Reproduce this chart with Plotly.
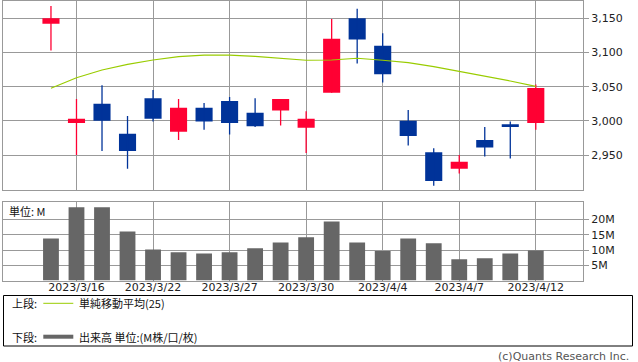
import plotly.graph_objects as go

# ---- data ----
dates = ["2023/3/15", "2023/3/16", "2023/3/17", "2023/3/20", "2023/3/22", "2023/3/23",
         "2023/3/24", "2023/3/27", "2023/3/28", "2023/3/29", "2023/3/30", "2023/3/31",
         "2023/4/3", "2023/4/4", "2023/4/5", "2023/4/6", "2023/4/7", "2023/4/10",
         "2023/4/11", "2023/4/12"]
open_ = [3142, 2997, 3025, 2981, 3033, 2984, 3019, 3029, 3012, 3015, 2990, 3041, 3150, 3110,
         3000, 2954, 2930, 2972, 2995, 2997]
high = [3168, 3032, 3052, 3007, 3045, 3032, 3026, 3035, 3033, 3032, 3014, 3149, 3164, 3128,
        3016, 2960, 2950, 2991, 2999, 3053]
low = [3103, 2950, 2956, 2930, 2999, 2972, 2987, 2980, 2991, 2993, 2953, 3041, 3084, 3056,
       2964, 2905, 2923, 2948, 2945, 2987]
close = [3150, 3003, 3000, 2956, 3003, 3019, 2999, 2997, 2992, 3032, 3003, 3120, 3119, 3068,
         2978, 2912, 2940, 2961, 2991, 3048]
ma25 = [3047.6, 3063.0, 3074.4, 3082.7, 3089.0, 3094.0, 3096.0, 3096.0, 3094.4, 3092.0,
        3088.6, 3089.0, 3091.5, 3088.6, 3085.0, 3079.3, 3072.5, 3064.7, 3058.3, 3050.5]
volume_m = [13.8, 24.0, 24.0, 16.1, 10.2, 9.3, 8.9, 9.3, 10.6, 12.5, 14.2, 19.4, 12.5, 9.7,
            13.8, 12.2, 7.0, 7.3, 8.9, 9.9]
x_tick_dates = ["2023/3/16", "2023/3/22", "2023/3/27", "2023/3/30", "2023/4/4", "2023/4/7",
                "2023/4/12"]
price_ticks = [2950, 3000, 3050, 3100, 3150]
vol_ticks = [5, 10, 15, 20]
vol_tick_labels = ["5M", "10M", "15M", "20M"]

# ---- style ----
W, H = 638, 362
ML, MR = 3, 55
UP = "#FF0033"
DOWN = "#003399"
MA_COLOR = "#99CC00"
VOL_COLOR = "#666666"
GRID = "#999999"
FONT = "DejaVu Sans"
JFONT = "Noto Sans CJK JP"


def px_x(px):
    return (px - ML) / (W - ML - MR)


def px_y(py):
    return 1 - py / H


fig = go.Figure()

# wicks
for col, cond in ((UP, lambda o, c: c >= o), (DOWN, lambda o, c: c < o)):
    xs, ys = [], []
    for d, o, h, l, c in zip(dates, open_, high, low, close):
        if cond(o, c):
            xs += [d, d, None]
            ys += [l, h, None]
    fig.add_trace(go.Scatter(x=xs, y=ys, mode="lines", line=dict(color=col, width=1.3),
                             hoverinfo="skip", showlegend=False, xaxis="x", yaxis="y"))

# bodies
fig.add_trace(go.Bar(
    x=dates,
    base=[min(o, c) for o, c in zip(open_, close)],
    y=[max(abs(c - o), 0.8) for o, c in zip(open_, close)],
    marker=dict(color=[UP if c >= o else DOWN for o, c in zip(open_, close)], line=dict(width=0)),
    width=0.67, showlegend=False, xaxis="x", yaxis="y"))

# moving average
fig.add_trace(go.Scatter(x=dates, y=ma25, mode="lines", line=dict(color=MA_COLOR, width=1.2),
                         showlegend=False, xaxis="x", yaxis="y"))

# volume
fig.add_trace(go.Bar(x=dates, y=volume_m, marker=dict(color=VOL_COLOR, line=dict(width=0)),
                     width=0.62, showlegend=False, xaxis="x2", yaxis="y2"))

xrange = [-1.88, 20.85]
axis_common = dict(showline=True, mirror=True, linecolor=GRID, linewidth=1,
                   gridcolor=GRID, gridwidth=1, zeroline=False)

fig.update_layout(
    width=W, height=H,
    margin=dict(l=ML, r=MR, t=0, b=0),
    paper_bgcolor="white", plot_bgcolor="white",
    barmode="overlay",
    font=dict(family=FONT, size=11, color="#222222"),
    xaxis=dict(type="category", categoryorder="array", categoryarray=dates,
               range=xrange, domain=[0, 1], anchor="y",
               tickmode="array", tickvals=x_tick_dates, showticklabels=False,
               ticks="", showgrid=True, **axis_common),
    yaxis=dict(domain=[px_y(190.3), px_y(0.5)], range=[2898.4, 3176], side="right",
               tickmode="array", tickvals=price_ticks, tickformat=",",
               ticks="outside", ticklen=5, tickcolor=GRID, showgrid=True,
               anchor="x", **axis_common),
    xaxis2=dict(type="category", categoryorder="array", categoryarray=dates,
                range=xrange, domain=[0, 1], anchor="y2", matches="x",
                tickmode="array", tickvals=x_tick_dates, showticklabels=True,
                ticks="", showgrid=True, ticklabelstandoff=-4,
                tickfont=dict(family=FONT, size=11, color="#222222"),
                **axis_common),
    yaxis2=dict(domain=[px_y(280.6), px_y(202)], range=[0, 25.75], side="right",
                tickmode="array", tickvals=vol_ticks, ticktext=vol_tick_labels,
                ticks="outside", ticklen=5, tickcolor=GRID, showgrid=True,
                anchor="x2", **axis_common),
)

shapes = []
annotations = []

# legend box
shapes.append(dict(type="rect", xref="paper", yref="paper",
                   x0=px_x(3.5), x1=px_x(632.5), y0=px_y(346), y1=px_y(295.5),
                   line=dict(color="black", width=1), fillcolor="rgba(0,0,0,0)"))
shapes.append(dict(type="line", xref="paper", yref="paper",
                   x0=px_x(43.3), x1=px_x(73.3), y0=px_y(303.3), y1=px_y(303.3),
                   line=dict(color=MA_COLOR, width=1)))
shapes.append(dict(type="line", xref="paper", yref="paper",
                   x0=px_x(43.3), x1=px_x(73.3), y0=px_y(336.7), y1=px_y(336.7),
                   line=dict(color=VOL_COLOR, width=4)))

def text(px, py, s, size=11, color="#111111", anchor="left", family=JFONT):
    annotations.append(dict(xref="paper", yref="paper", x=px_x(px), y=px_y(py), text=s,
                            showarrow=False, xanchor=anchor, yanchor="middle",
                            font=dict(family=family, size=size, color=color)))

text(10, 303.3, "上段:")
text(77, 303.3, "単純移動平均(25)")
text(10, 336.7, "下段:")
text(77, 336.7, "出来高 単位:(M株/口/枚)")
text(7, 210.5, "単位: M")
text(631, 356.5, "(c)Quants Research Inc.", size=11, color="#555555", anchor="right", family=FONT)

fig.update_layout(shapes=shapes, annotations=annotations)

fig.write_html("out.html", config={"displayModeBar": False},
               post_script="document.body.style.margin='0';")
